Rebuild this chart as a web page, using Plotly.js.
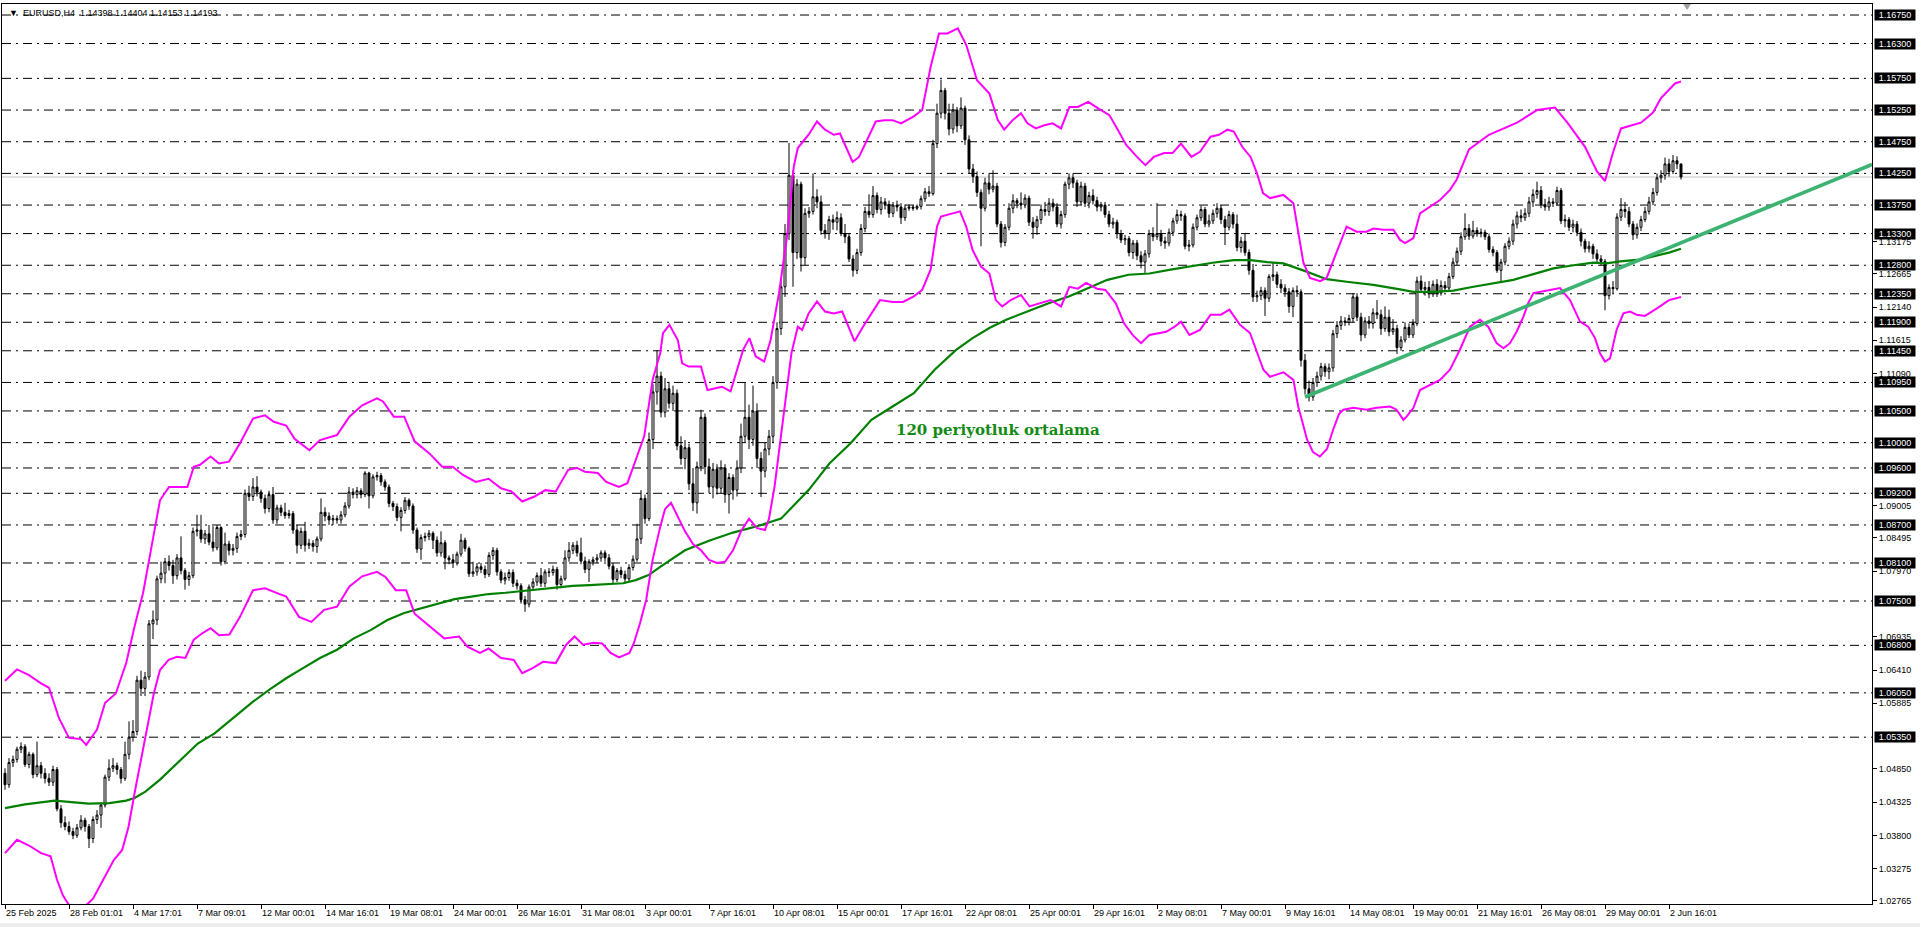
<!DOCTYPE html>
<html><head><meta charset="utf-8">
<script src="https://cdn.plot.ly/plotly-3.0.1.min.js"></script>
<style>html,body{margin:0;padding:0;background:#fff;}#chart{width:1920px;height:927px;}</style>
</head><body><div id="chart"></div>
<script>
// ---- H4 candles (EURUSD), bar index 0 = 25 Feb 2025 ----
const opens = [
1.0478,1.0460,1.0495,1.0500,1.0516,1.0520,1.0492,1.0508,1.0476,1.0490,
1.0478,1.0470,1.0464,1.0484,1.0422,1.0400,1.0394,1.0386,1.0380,1.0392,
1.0404,1.0394,1.0375,1.0405,1.0412,1.0428,1.0472,1.0486,1.0490,1.0484,
1.0470,1.0508,1.0535,1.0544,1.0625,1.0612,1.0630,1.0714,1.0720,1.0785,
1.0794,1.0812,1.0806,1.0790,1.0818,1.0798,1.0784,1.0790,1.0860,1.0862,
1.0848,1.0856,1.0843,1.0834,1.0866,1.0812,1.0840,1.0830,1.0833,1.0852,
1.0855,1.0920,1.0915,1.0930,1.0922,1.0912,1.0896,1.0918,1.0878,1.0897,
1.0890,1.0885,1.0888,1.0862,1.0838,1.0860,1.0838,1.0841,1.0836,1.0848,
1.0890,1.0884,1.0878,1.0880,1.0878,1.0886,1.0900,1.0922,1.0918,1.0924,
1.0918,1.0952,1.0916,1.0946,1.0948,1.0938,1.0930,1.0904,1.0899,1.0882,
1.0893,1.0909,1.0900,1.0862,1.0832,1.0850,1.0852,1.0857,1.0846,1.0826,
1.0842,1.0818,1.0815,1.0810,1.0824,1.0846,1.0833,1.0793,1.0796,1.0804,
1.0800,1.0792,1.0822,1.0830,1.0796,1.0783,1.0787,1.0795,1.0778,1.0774,
1.0752,1.0745,1.0772,1.0780,1.0790,1.0778,1.0796,1.0795,1.0800,1.0776,
1.0785,1.0818,1.0830,1.0838,1.0826,1.0813,1.0800,1.0812,1.0815,1.0818,
1.0826,1.0818,1.0805,1.0784,1.0798,1.0792,1.0785,1.0803,1.0816,1.0848,
1.0912,1.0880,1.1005,1.1080,1.1105,1.1048,1.1085,1.1062,1.1078,1.0995,
1.0975,1.0992,1.0935,1.0905,1.0962,1.1040,1.0962,1.0930,1.0958,1.0928,
1.0960,1.0918,1.0945,1.0925,1.0960,1.1010,1.1040,1.1005,1.1050,1.0975,
1.0955,1.0990,1.1010,1.1095,1.1180,1.1246,1.1330,1.1422,1.1300,1.1408,
1.1292,1.1362,1.1365,1.1388,1.1380,1.1335,1.1330,1.1352,1.1348,1.1355,
1.1330,1.1325,1.1290,1.1272,1.1300,1.1338,1.1365,1.1360,1.1390,1.1368,
1.1380,1.1376,1.1362,1.1375,1.1372,1.1355,1.1370,1.1372,1.1370,1.1373,
1.1385,1.1396,1.1393,1.1472,1.1520,1.1556,1.1520,1.1495,1.1525,1.1500,
1.1528,1.1478,1.1432,1.1420,1.1395,1.1370,1.1410,1.1400,1.1405,1.1345,
1.1316,1.1340,1.1370,1.1382,1.1378,1.1375,1.1386,1.1348,1.1340,1.1352,
1.1368,1.1365,1.1378,1.1372,1.1345,1.1360,1.1408,1.1418,1.1410,1.1380,
1.1405,1.1378,1.1390,1.1382,1.1372,1.1375,1.1360,1.1345,1.1348,1.1330,
1.1320,1.1322,1.1300,1.1315,1.1295,1.1285,1.1298,1.1330,1.1325,1.1330,
1.1318,1.1315,1.1332,1.1350,1.1360,1.1358,1.1310,1.1312,1.1340,1.1355,
1.1368,1.1345,1.1350,1.1362,1.1370,1.1352,1.1340,1.1360,1.1345,1.1308,
1.1318,1.1300,1.1272,1.1230,1.1232,1.1240,1.1228,1.1262,1.1265,1.1250,
1.1244,1.1238,1.1215,1.1240,1.1238,1.1130,1.1085,1.1072,1.1095,1.1105,
1.1120,1.1112,1.1118,1.1172,1.1185,1.1192,1.1190,1.1196,1.1230,1.1198,
1.1170,1.1192,1.1188,1.1205,1.1202,1.1180,1.1198,1.1175,1.1180,1.1150,
1.1162,1.1182,1.1170,1.1188,1.1255,1.1242,1.1245,1.1235,1.1250,1.1236,
1.1248,1.1244,1.1262,1.1285,1.1302,1.1325,1.1338,1.1326,1.1335,1.1330,
1.1332,1.1325,1.1305,1.1300,1.1272,1.1285,1.1310,1.1318,1.1345,1.1358,
1.1355,1.1362,1.1380,1.1392,1.1398,1.1376,1.1372,1.1380,1.1378,1.1398,
1.1350,1.1352,1.1340,1.1345,1.1332,1.1318,1.1306,1.1310,1.1298,1.1290,
1.1286,1.1232,1.1245,1.1243,1.1356,1.1368,1.1365,1.1345,1.1328,1.1340,
1.1352,1.1365,1.1380,1.1395,1.1418,1.1422,1.1440,1.1428,1.1445,1.14398];
const highs = [
1.0486,1.0502,1.0506,1.0520,1.0527,1.0524,1.0512,1.0511,1.0528,1.0496,
1.0486,1.0478,1.0490,1.0488,1.0428,1.0410,1.0402,1.0392,1.0398,1.0412,
1.0408,1.0398,1.0410,1.0420,1.0432,1.0476,1.0500,1.0502,1.0495,1.0488,
1.0528,1.0560,1.0562,1.0632,1.0640,1.0638,1.0720,1.0735,1.0790,1.0812,
1.0818,1.0822,1.0815,1.0824,1.0852,1.0802,1.0796,1.0866,1.0886,1.0886,
1.0862,1.0870,1.0868,1.0870,1.0868,1.0858,1.0845,1.0840,1.0858,1.0862,
1.0926,1.0932,1.0944,1.0947,1.0926,1.0918,1.0924,1.0930,1.0902,1.0902,
1.0905,1.0894,1.0892,1.0870,1.0866,1.0875,1.0848,1.0846,1.0852,1.0912,
1.0898,1.0890,1.0886,1.0885,1.0892,1.0906,1.0930,1.0928,1.0930,1.0928,
1.0955,1.0954,1.0950,1.0954,1.0952,1.0942,1.0934,1.0908,1.0904,1.0898,
1.0914,1.0912,1.0904,1.0866,1.0855,1.0858,1.0862,1.0860,1.0852,1.0860,
1.0846,1.0822,1.0824,1.0828,1.0856,1.0850,1.0836,1.0812,1.0810,1.0810,
1.0806,1.0827,1.0835,1.0834,1.0800,1.0795,1.0800,1.0800,1.0784,1.0778,
1.0758,1.0776,1.0786,1.0795,1.0802,1.0800,1.0802,1.0806,1.0804,1.0790,
1.0830,1.0843,1.0843,1.0845,1.0850,1.0820,1.0816,1.0820,1.0824,1.0830,
1.0830,1.0824,1.0810,1.0802,1.0804,1.0798,1.0808,1.0822,1.0872,1.0925,
1.0918,1.1016,1.1092,1.1146,1.1112,1.1102,1.1096,1.1090,1.1084,1.1010,
1.1004,1.0998,1.0960,1.0970,1.1052,1.1046,1.0975,1.0968,1.0966,1.0972,
1.0966,1.0952,1.0950,1.0972,1.1030,1.1094,1.1060,1.1090,1.1062,1.0985,
1.1000,1.1020,1.1105,1.1190,1.1260,1.1345,1.1473,1.1430,1.1416,1.1412,
1.1370,1.1372,1.1425,1.1400,1.1390,1.1345,1.1358,1.1360,1.1365,1.1362,
1.1345,1.1330,1.1296,1.1306,1.1345,1.1372,1.1392,1.1405,1.1395,1.1388,
1.1386,1.1382,1.1380,1.1382,1.1378,1.1376,1.1376,1.1375,1.1376,1.1390,
1.1402,1.1405,1.1478,1.1535,1.1573,1.1560,1.1535,1.1535,1.1530,1.1545,
1.1532,1.1485,1.1440,1.1428,1.1400,1.1418,1.1425,1.1430,1.1410,1.1350,
1.1345,1.1378,1.1392,1.1386,1.1395,1.1392,1.1390,1.1356,1.1358,1.1376,
1.1380,1.1386,1.1385,1.1378,1.1366,1.1412,1.1425,1.1425,1.1415,1.1412,
1.1410,1.1396,1.1400,1.1388,1.1380,1.1380,1.1366,1.1355,1.1352,1.1336,
1.1328,1.1326,1.1320,1.1320,1.1302,1.1304,1.1336,1.1340,1.1378,1.1336,
1.1325,1.1338,1.1355,1.1368,1.1366,1.1362,1.1320,1.1346,1.1360,1.1374,
1.1372,1.1360,1.1368,1.1378,1.1375,1.1358,1.1366,1.1364,1.1360,1.1325,
1.1330,1.1305,1.1282,1.1240,1.1246,1.1245,1.1266,1.1285,1.1270,1.1258,
1.1250,1.1244,1.1245,1.1248,1.1242,1.1140,1.1098,1.1102,1.1112,1.1126,
1.1125,1.1125,1.1178,1.1192,1.1200,1.1198,1.1202,1.1236,1.1236,1.1205,
1.1198,1.1200,1.1212,1.1225,1.1210,1.1215,1.1210,1.1195,1.1186,1.1168,
1.1190,1.1188,1.1195,1.1262,1.1264,1.1254,1.1255,1.1256,1.1258,1.1256,
1.1255,1.1268,1.1292,1.1308,1.1332,1.1362,1.1345,1.1350,1.1340,1.1338,
1.1336,1.1330,1.1310,1.1304,1.1290,1.1315,1.1324,1.1352,1.1365,1.1368,
1.1370,1.1388,1.1400,1.1412,1.1405,1.1385,1.1388,1.1386,1.1404,1.1402,
1.1360,1.1356,1.1352,1.1350,1.1338,1.1322,1.1318,1.1314,1.1305,1.1296,
1.1290,1.1250,1.1255,1.1362,1.1386,1.1380,1.1372,1.1350,1.1346,1.1358,
1.1372,1.1388,1.1402,1.1425,1.1430,1.1450,1.1448,1.1454,1.1452,1.14404];
const lows = [
1.0452,1.0455,1.0488,1.0495,1.0510,1.0488,1.0486,1.0470,1.0472,1.0470,
1.0462,1.0458,1.0458,1.0418,1.0392,1.0388,1.0381,1.0374,1.0376,1.0388,
1.0386,1.0360,1.0368,1.0398,1.0392,1.0424,1.0466,1.0480,1.0476,1.0462,
1.0466,1.0500,1.0528,1.0538,1.0600,1.0600,1.0625,1.0690,1.0712,1.0778,
1.0778,1.0798,1.0777,1.0784,1.0792,1.0768,1.0774,1.0786,1.0852,1.0842,
1.0840,1.0838,1.0828,1.0830,1.0806,1.0808,1.0822,1.0822,1.0826,1.0846,
1.0850,1.0908,1.0908,1.0915,1.0905,1.0888,1.0890,1.0872,1.0872,1.0884,
1.0880,1.0880,1.0856,1.0825,1.0832,1.0828,1.0832,1.0828,1.0826,1.0844,
1.0876,1.0870,1.0870,1.0872,1.0872,1.0882,1.0896,1.0912,1.0912,1.0912,
1.0914,1.0896,1.0912,1.0940,1.0932,1.0924,1.0898,1.0892,1.0876,1.0860,
1.0888,1.0894,1.0856,1.0826,1.0815,1.0844,1.0846,1.0832,1.0820,1.0820,
1.0800,1.0808,1.0802,1.0806,1.0820,1.0828,1.0788,1.0788,1.0790,1.0794,
1.0786,1.0788,1.0815,1.0790,1.0778,1.0776,1.0782,1.0772,1.0768,1.0746,
1.0733,1.0740,1.0766,1.0774,1.0772,1.0772,1.0788,1.0790,1.0768,1.0770,
1.0782,1.0812,1.0824,1.0820,1.0808,1.0794,1.0780,1.0806,1.0810,1.0812,
1.0812,1.0800,1.0778,1.0780,1.0786,1.0778,1.0780,1.0798,1.0812,1.0840,
1.0872,1.0876,1.0990,1.1060,1.1040,1.1040,1.1054,1.1050,1.0988,1.0965,
1.0958,1.0925,1.0892,1.0888,1.0955,1.0950,1.0920,1.0912,1.0918,1.0920,
1.0905,1.0888,1.0910,1.0915,1.0952,1.1000,1.0990,1.0995,1.0960,1.0914,
1.0945,1.0980,1.1000,1.1085,1.1170,1.1230,1.1320,1.1246,1.1290,1.1270,
1.1280,1.1355,1.1360,1.1370,1.1328,1.1322,1.1320,1.1336,1.1335,1.1326,
1.1315,1.1285,1.1262,1.1266,1.1295,1.1332,1.1355,1.1355,1.1362,1.1360,
1.1368,1.1355,1.1356,1.1365,1.1345,1.1350,1.1366,1.1366,1.1367,1.1368,
1.1380,1.1388,1.1390,1.1465,1.1512,1.1510,1.1485,1.1488,1.1490,1.1495,
1.1470,1.1425,1.1410,1.1388,1.1310,1.1365,1.1392,1.1395,1.1340,1.1308,
1.1310,1.1335,1.1362,1.1370,1.1368,1.1370,1.1342,1.1322,1.1328,1.1345,
1.1358,1.1358,1.1365,1.1340,1.1338,1.1355,1.1400,1.1402,1.1372,1.1375,
1.1372,1.1370,1.1376,1.1365,1.1365,1.1355,1.1340,1.1338,1.1322,1.1315,
1.1312,1.1294,1.1290,1.1288,1.1275,1.1268,1.1292,1.1318,1.1320,1.1310,
1.1306,1.1310,1.1326,1.1345,1.1350,1.1305,1.1302,1.1308,1.1335,1.1350,
1.1340,1.1340,1.1345,1.1355,1.1345,1.1312,1.1335,1.1338,1.1302,1.1300,
1.1295,1.1265,1.1222,1.1222,1.1225,1.1200,1.1222,1.1255,1.1244,1.1236,
1.1230,1.1205,1.1198,1.1230,1.1120,1.1076,1.1065,1.1066,1.1088,1.1098,
1.1104,1.1100,1.1112,1.1165,1.1178,1.1184,1.1185,1.1190,1.1192,1.1160,
1.1165,1.1180,1.1180,1.1195,1.1170,1.1175,1.1168,1.1170,1.1140,1.1145,
1.1158,1.1165,1.1165,1.1184,1.1236,1.1232,1.1228,1.1230,1.1230,1.1232,
1.1238,1.1240,1.1258,1.1280,1.1296,1.1320,1.1320,1.1322,1.1325,1.1324,
1.1320,1.1300,1.1294,1.1268,1.1254,1.1280,1.1305,1.1312,1.1338,1.1348,
1.1350,1.1356,1.1372,1.1385,1.1370,1.1366,1.1366,1.1372,1.1374,1.1345,
1.1340,1.1334,1.1332,1.1326,1.1310,1.1300,1.1300,1.1290,1.1285,1.1280,
1.1209,1.1226,1.1236,1.1240,1.1350,1.1355,1.1340,1.1320,1.1322,1.1334,
1.1348,1.1360,1.1375,1.1390,1.1410,1.1415,1.1420,1.1424,1.1432,1.14153];
const closes = [
1.0460,1.0495,1.0500,1.0516,1.0520,1.0492,1.0508,1.0476,1.0490,1.0478,
1.0470,1.0464,1.0484,1.0422,1.0400,1.0394,1.0386,1.0380,1.0392,1.0404,
1.0394,1.0375,1.0405,1.0412,1.0428,1.0472,1.0486,1.0490,1.0484,1.0470,
1.0508,1.0535,1.0544,1.0625,1.0612,1.0630,1.0714,1.0720,1.0785,1.0794,
1.0812,1.0806,1.0790,1.0818,1.0798,1.0784,1.0790,1.0860,1.0862,1.0848,
1.0856,1.0843,1.0834,1.0866,1.0812,1.0840,1.0830,1.0833,1.0852,1.0855,
1.0920,1.0915,1.0930,1.0922,1.0912,1.0896,1.0918,1.0878,1.0897,1.0890,
1.0885,1.0888,1.0862,1.0838,1.0860,1.0838,1.0841,1.0836,1.0848,1.0890,
1.0884,1.0878,1.0880,1.0878,1.0886,1.0900,1.0922,1.0918,1.0924,1.0918,
1.0952,1.0916,1.0946,1.0948,1.0938,1.0930,1.0904,1.0899,1.0882,1.0893,
1.0909,1.0900,1.0862,1.0832,1.0850,1.0852,1.0857,1.0846,1.0826,1.0842,
1.0818,1.0815,1.0810,1.0824,1.0846,1.0833,1.0793,1.0796,1.0804,1.0800,
1.0792,1.0822,1.0830,1.0796,1.0783,1.0787,1.0795,1.0778,1.0774,1.0752,
1.0745,1.0772,1.0780,1.0790,1.0778,1.0796,1.0795,1.0800,1.0776,1.0785,
1.0818,1.0830,1.0838,1.0826,1.0813,1.0800,1.0812,1.0815,1.0818,1.0826,
1.0818,1.0805,1.0784,1.0798,1.0792,1.0785,1.0803,1.0816,1.0848,1.0912,
1.0880,1.1005,1.1080,1.1105,1.1048,1.1085,1.1062,1.1078,1.0995,1.0975,
1.0992,1.0935,1.0905,1.0962,1.1040,1.0962,1.0930,1.0958,1.0928,1.0960,
1.0918,1.0945,1.0925,1.0960,1.1010,1.1040,1.1005,1.1050,1.0975,1.0955,
1.0990,1.1010,1.1095,1.1180,1.1246,1.1330,1.1422,1.1300,1.1408,1.1292,
1.1362,1.1365,1.1388,1.1380,1.1335,1.1330,1.1352,1.1348,1.1355,1.1330,
1.1325,1.1290,1.1272,1.1300,1.1338,1.1365,1.1360,1.1390,1.1368,1.1380,
1.1376,1.1362,1.1375,1.1372,1.1355,1.1370,1.1372,1.1370,1.1373,1.1385,
1.1396,1.1393,1.1472,1.1520,1.1556,1.1520,1.1495,1.1525,1.1500,1.1528,
1.1478,1.1432,1.1420,1.1395,1.1370,1.1410,1.1400,1.1405,1.1345,1.1316,
1.1340,1.1370,1.1382,1.1378,1.1375,1.1386,1.1348,1.1340,1.1352,1.1368,
1.1365,1.1378,1.1372,1.1345,1.1360,1.1408,1.1418,1.1410,1.1380,1.1405,
1.1378,1.1390,1.1382,1.1372,1.1375,1.1360,1.1345,1.1348,1.1330,1.1320,
1.1322,1.1300,1.1315,1.1295,1.1285,1.1298,1.1330,1.1325,1.1330,1.1318,
1.1315,1.1332,1.1350,1.1360,1.1358,1.1310,1.1312,1.1340,1.1355,1.1368,
1.1345,1.1350,1.1362,1.1370,1.1352,1.1340,1.1360,1.1345,1.1308,1.1318,
1.1300,1.1272,1.1230,1.1232,1.1240,1.1228,1.1262,1.1265,1.1250,1.1244,
1.1238,1.1215,1.1240,1.1238,1.1130,1.1085,1.1072,1.1095,1.1105,1.1120,
1.1112,1.1118,1.1172,1.1185,1.1192,1.1190,1.1196,1.1230,1.1198,1.1170,
1.1192,1.1188,1.1205,1.1202,1.1180,1.1198,1.1175,1.1180,1.1150,1.1162,
1.1182,1.1170,1.1188,1.1255,1.1242,1.1245,1.1235,1.1250,1.1236,1.1248,
1.1244,1.1262,1.1285,1.1302,1.1325,1.1338,1.1326,1.1335,1.1330,1.1332,
1.1325,1.1305,1.1300,1.1272,1.1285,1.1310,1.1318,1.1345,1.1358,1.1355,
1.1362,1.1380,1.1392,1.1398,1.1376,1.1372,1.1380,1.1378,1.1398,1.1350,
1.1352,1.1340,1.1345,1.1332,1.1318,1.1306,1.1310,1.1298,1.1290,1.1286,
1.1232,1.1245,1.1243,1.1356,1.1368,1.1365,1.1345,1.1328,1.1340,1.1352,
1.1365,1.1380,1.1395,1.1418,1.1422,1.1440,1.1428,1.1445,1.1440,1.14193];

// ---- Bollinger bands and 120-period MA, read at bar positions ----
const upperX = [0,3,6,9,11,13.5,16,19,20.3,23,25,27.7,30.3,32.4,34.5,36.6,38.75,41,43,45.6,47.2,48.75,51.4,53.5,56,58.75,62,65,67.2,70.3,72.4,76.1,78.75,83,86.1,89.3,93,94.5,97.2,99.8,102.4,106.1,109.3,111.9,114.5,117.7,120.9,124,126.6,129.3,132.4,135.1,137.7,140.8,143,145,148.2,150.3,153.5,155.6,157.7,159.8,161.9,163.8,164.5,166.1,168.2,169.3,170.9,174,175.6,177.7,179.3,181.4,183,184.5,186.1,187.7,189.8,191.4,193.5,195.6,197.2,198.2,200.9,203,205,207.2,208.75,210.3,211.9,213.5,215.6,217.7,219.8,221.9,224,227.2,229.3,231.4,233.5,235.6,238.2,240.3,243,244.5,246.1,248.2,249.8,251.9,254,255.6,257.7,259.8,261.9,264,266.1,268.2,270.8,273.5,276.1,278.2,280.3,283,285.1,287.2,289.8,291.9,294,296.6,298.75,301.4,303.5,305.6,307.2,309.3,311.4,313,314.5,316.25,319.6,322.1,323.3,324.6,326.25,328.75,330.4,332.1,333.75,335.4,337.9,340.4,342.1,344.6,347.1,348.75,350,352.1,353.75,356.25,358.75,361.25,362.9,366,371,378,383,387.5,390.6,395,398,400,402,404,409,412,414,417.5,419];
const upperY = [1.0624,1.0642,1.0633,1.0620,1.0613,1.0565,1.0534,1.0532,1.0523,1.0547,1.0589,1.0604,1.0652,1.0710,1.0762,1.0836,1.0909,1.0930,1.0930,1.0930,1.0962,1.0965,1.0978,1.0967,1.0970,1.0999,1.1038,1.1043,1.1033,1.1027,1.1006,1.0988,1.1004,1.1012,1.1041,1.1059,1.1070,1.1065,1.1041,1.1041,1.1002,1.0983,1.0962,1.0962,1.0949,1.0938,1.0943,1.0928,1.0923,1.0907,1.0915,1.0925,1.0923,1.0957,1.0960,1.0954,1.0952,1.0938,1.0930,1.0936,1.0973,1.1010,1.1099,1.1141,1.1173,1.1186,1.1162,1.1125,1.1120,1.1120,1.1083,1.1086,1.1088,1.1081,1.1115,1.1146,1.1165,1.1136,1.1128,1.1162,1.1236,1.1330,1.1436,1.1465,1.1486,1.1507,1.1494,1.1486,1.1488,1.1467,1.1443,1.1451,1.1480,1.1507,1.1509,1.1509,1.1504,1.1515,1.1525,1.1593,1.1646,1.1646,1.1654,1.1628,1.1572,1.1562,1.1551,1.1509,1.1494,1.1509,1.1520,1.1504,1.1496,1.1501,1.1504,1.1496,1.1530,1.1530,1.1538,1.1527,1.1517,1.1494,1.1470,1.1451,1.1438,1.1451,1.1457,1.1457,1.1472,1.1451,1.1459,1.1483,1.1486,1.1494,1.1491,1.1467,1.1451,1.1425,1.1394,1.1386,1.1391,1.1378,1.1336,1.1284,1.1260,1.1255,1.1260,1.1288,1.1315,1.1341,1.1333,1.1333,1.1338,1.1336,1.1336,1.1320,1.1315,1.1323,1.1362,1.1373,1.1383,1.1399,1.1415,1.1463,1.1486,1.1505,1.1525,1.1529,1.1505,1.1467,1.1428,1.1413,1.1458,1.1496,1.1505,1.1521,1.1544,1.1567,1.1570];
const lowerX = [0,3,6,9,11.4,13,14.5,16,18,20,22,24.5,27.2,29.3,30.9,32.4,34,35.6,37.2,38.75,40.9,43,45.1,47.2,49.3,51.4,53.5,56.1,58.75,62,65,68.2,70.3,73.5,76.6,79.8,83,86.1,89.3,93,95.1,97.7,100.3,102.4,106.1,109.8,113.5,115.6,118.75,120.9,124,127.2,129.3,131.9,134.5,137.7,140.3,142.4,144.5,147.2,149.3,151.4,153.5,156.1,157.2,158.75,160.3,161.9,163.8,165,166.5,168,170,172,174,176,178,180,182,184,186,188,190,191,192.4,194.5,196.6,198.2,199.3,200.9,203,205,207.2,209.3,210.8,212.4,214.5,216.6,218.75,221.9,224.5,227.2,229.3,231.4,233,234,237.2,238.75,240.3,241.9,244,246.1,247.7,249.3,251.4,254,256.1,258.75,261.4,264,266.1,268.2,270.3,273,275.1,277.7,279.8,281.9,284,286.1,288.2,290.3,292.4,294,296.1,298.75,301.4,304,306.1,308.75,311.25,312.5,314.6,316.25,319.6,322.1,323.3,324.2,325.5,327,328.7,330.5,332,333.5,334.6,337.1,340.4,342.9,346.25,347.9,349.6,350.4,352.1,353.75,355.4,358.75,361.25,363.75,366.25,368.75,370.8,372.9,374.6,376.25,377.9,379.6,380.8,382.1,386.25,388.75,391.25,393.75,395.8,397.5,398.75,400,401.25,402.9,404.6,406.25,407.9,410,413,416,419];
const lowerY = [1.0352,1.0373,1.0364,1.0352,1.0347,1.0310,1.0285,1.0270,1.0266,1.0268,1.0280,1.0310,1.0341,1.0357,1.0394,1.0447,1.0499,1.0552,1.0604,1.0641,1.0657,1.0662,1.0660,1.0689,1.0699,1.0707,1.0696,1.0697,1.0725,1.0767,1.0770,1.0762,1.0757,1.0725,1.0717,1.0736,1.0741,1.0773,1.0789,1.0796,1.0788,1.0767,1.0767,1.0730,1.0710,1.0691,1.0694,1.0678,1.0668,1.0675,1.0660,1.0657,1.0636,1.0644,1.0654,1.0652,1.0681,1.0694,1.0681,1.0684,1.0683,1.0668,1.0661,1.0668,1.0683,1.0715,1.0752,1.0815,1.0867,1.0895,1.0905,1.0885,1.0860,1.0840,1.0830,1.0815,1.0810,1.0812,1.0830,1.0860,1.0880,1.0865,1.0862,1.0880,1.0931,1.1036,1.1141,1.1183,1.1178,1.1204,1.1223,1.1207,1.1204,1.1207,1.1183,1.1160,1.1183,1.1204,1.1225,1.1222,1.1222,1.1231,1.1241,1.1273,1.1341,1.1357,1.1362,1.1365,1.1341,1.1304,1.1278,1.1267,1.1225,1.1215,1.1225,1.1233,1.1215,1.1220,1.1225,1.1215,1.1246,1.1243,1.1252,1.1243,1.1241,1.1220,1.1188,1.1170,1.1157,1.1170,1.1173,1.1175,1.1183,1.1191,1.1170,1.1178,1.1202,1.1202,1.1210,1.1186,1.1173,1.1152,1.1115,1.1104,1.1111,1.1099,1.1057,1.1036,1.1005,1.0985,1.0978,1.0990,1.1020,1.1045,1.1052,1.1055,1.1052,1.1055,1.1057,1.1052,1.1036,1.1041,1.1055,1.1083,1.1088,1.1099,1.1115,1.1147,1.1183,1.1194,1.1183,1.1157,1.1149,1.1157,1.1175,1.1199,1.1220,1.1236,1.1241,1.1244,1.1225,1.1191,1.1183,1.1165,1.1141,1.1128,1.1133,1.1178,1.1204,1.1207,1.1202,1.1200,1.1212,1.1225,1.1230];
const maX = [0,5,12.4,16.6,20.9,26.1,30.3,32.4,35.1,38.75,44,48.2,52.4,57.7,62,66.1,70.3,74.5,78.75,83,87.2,91.4,95.6,99.8,104,108.2,112.4,116.6,120.9,125.1,129.3,133.5,137.7,141.9,146.1,150.3,154.5,157.7,160.9,163.8,170,176,182,188,194,200.9,206.1,211.4,216.6,221.9,227.2,232.4,237.7,241.9,246.1,250.3,255.6,260.9,266.1,271.4,275.6,280.9,286.1,291.4,296.6,301.9,307.2,311.4,315.6,319.6,325.4,330.4,335.4,342.1,348.75,352.1,357.1,362.1,367.1,372.1,377.1,382.1,387.1,392.1,397.1,400.4,403.75,408.75,412,416,419];
const maY = [1.0423,1.0429,1.0435,1.0432,1.0430,1.0431,1.0435,1.0439,1.0449,1.0468,1.0499,1.0525,1.0541,1.0568,1.0591,1.0610,1.0628,1.0644,1.0660,1.0673,1.0691,1.0704,1.0720,1.0731,1.0738,1.0746,1.0753,1.0757,1.0761,1.0763,1.0766,1.0769,1.0771,1.0774,1.0775,1.0777,1.0778,1.0783,1.0791,1.0804,1.0830,1.0845,1.0858,1.0868,1.0880,1.0925,1.0967,1.0999,1.1036,1.1057,1.1078,1.1115,1.1146,1.1165,1.1181,1.1194,1.1207,1.1220,1.1231,1.1246,1.1257,1.1265,1.1267,1.1273,1.1279,1.1284,1.1288,1.1288,1.1285,1.1283,1.1270,1.1258,1.1254,1.1249,1.1242,1.1238,1.1238,1.1240,1.1246,1.1252,1.1257,1.1266,1.1275,1.1280,1.1284,1.1283,1.1286,1.1289,1.1294,1.1300,1.1306];
// rising trendline drawn on the chart (start bar / price, end at right edge)
const trendX = [325, 466.75];
const trendY = [1.1072, 1.1439];

// ---- axis labels ----
const timeTickBars = [0,16,32,48,64,80,96,112,128,144,160,176,192,208,224,240,256,272,288,304,320,336,352,368,384,400,416];
const timeTickText = ["25 Feb 2025","28 Feb 01:01","4 Mar 17:01","7 Mar 09:01","12 Mar 00:01","14 Mar 16:01","19 Mar 08:01","24 Mar 00:01","26 Mar 16:01","31 Mar 08:01","3 Apr 00:01","7 Apr 16:01","10 Apr 08:01","15 Apr 00:01","17 Apr 16:01","22 Apr 08:01","25 Apr 00:01","29 Apr 16:01","2 May 08:01","7 May 00:01","9 May 16:01","14 May 08:01","19 May 00:01","21 May 16:01","26 May 08:01","29 May 00:01","2 Jun 16:01"];
const priceTicks = ["1.13175","1.12665","1.12140","1.11615","1.11090","1.09005","1.08495","1.07970","1.06935","1.06410","1.05885","1.04850","1.04325","1.03800","1.03275","1.02765"];
const levels = ["1.16750","1.16300","1.15750","1.15250","1.14750","1.14250","1.13750","1.13300","1.12800","1.12350","1.11900","1.11450","1.10950","1.10500","1.10000","1.09600","1.09200","1.08700","1.08100","1.07500","1.06800","1.06050","1.05350"];
const bidPrice = 1.14193;
const titleText = "EURUSD,H4  1.14398 1.14404 1.14153 1.14193";
const maLabel = "120 periyotluk ortalama";

const barIdx = opens.map((_, i) => i);
const FONT = "Liberation Sans, Arial, sans-serif";

const traces = [
  {type:'candlestick', x:barIdx, open:opens, high:highs, low:lows, close:closes,
   increasing:{line:{color:'#000', width:1}, fillcolor:'#ffffff'},
   decreasing:{line:{color:'#000', width:1}, fillcolor:'#000000'},
   whiskerwidth:0, hoverinfo:'skip', showlegend:false},
  {type:'scatter', mode:'lines', x:maX, y:maY, line:{color:'#008000', width:2.2}, hoverinfo:'skip', showlegend:false},
  {type:'scatter', mode:'lines', x:upperX, y:upperY, line:{color:'#ff00ff', width:2}, hoverinfo:'skip', showlegend:false},
  {type:'scatter', mode:'lines', x:lowerX, y:lowerY, line:{color:'#ff00ff', width:2}, hoverinfo:'skip', showlegend:false},
  {type:'scatter', mode:'lines', x:trendX, y:trendY, line:{color:'#3cb371', width:3.6}, hoverinfo:'skip', showlegend:false}
];

const shapes = levels.map(v => ({type:'line', xref:'paper', x0:0, x1:1, yref:'y', y0:+v, y1:+v,
  line:{color:'#000', width:1, dash:'9px,5px,2px,5px'}, layer:'below'}));
shapes.push({type:'line', xref:'paper', x0:0, x1:1, yref:'y', y0:bidPrice, y1:bidPrice, line:{color:'#c0c0c0', width:1}, layer:'below'});
shapes.push({type:'path', xref:'paper', yref:'paper', path:'M 0.8990 1 L 0.9032 1 L 0.9011 0.9933 Z', fillcolor:'#a0a0a0', line:{width:0}});
shapes.push({type:'rect', xref:'paper', yref:'paper', x0:-0.01, x1:1.03, y0:-0.0256, y1:-0.0215, fillcolor:'#ececec', line:{width:0}});

const annotations = levels.map(v => ({xref:'paper', x:1, xanchor:'left', xshift:2, yref:'y', y:+v, yanchor:'middle',
  text:v, showarrow:false, bgcolor:'#000', borderpad:0, width:40, height:10,
  font:{family:FONT, size:9, color:'#fff'}}));
annotations.push({xref:'paper', yref:'paper', x:0.0025, y:0.9905, xanchor:'left', yanchor:'middle', showarrow:false,
  text:'\u25BC  ' + titleText, font:{family:FONT, size:9, color:'#000'}});
annotations.push({xref:'x', yref:'y', x:248.2, y:1.1020, xanchor:'center', yanchor:'middle', showarrow:false,
  text:maLabel, font:{family:'DejaVu Serif, serif', size:15, color:'#138a13', weight:'bold'}});

const layout = {
  width:1920, height:927,
  margin:{l:2, r:48, t:4, b:23, pad:0},
  paper_bgcolor:'#ffffff', plot_bgcolor:'#ffffff',
  showlegend:false,
  xaxis:{range:[-0.75, 466.75], showgrid:false, zeroline:false, showline:true, linecolor:'#000', linewidth:1, mirror:true,
    ticks:'outside', ticklen:4, tickcolor:'#000', tickmode:'array', tickvals:timeTickBars, ticktext:timeTickText,
    ticklabelposition:'outside right', tickfont:{family:FONT, size:9, color:'#000'}, rangeslider:{visible:false}, fixedrange:true},
  yaxis:{side:'right', range:[1.02717, 1.16924], showgrid:false, zeroline:false, showline:true, linecolor:'#000', linewidth:1, mirror:true,
    ticks:'outside', ticklen:4, tickcolor:'#000', tickmode:'array', tickvals:priceTicks.map(Number), ticktext:priceTicks,
    tickfont:{family:FONT, size:9, color:'#000'}, fixedrange:true},
  shapes:shapes, annotations:annotations
};
Plotly.newPlot('chart', traces, layout, {staticPlot:true, displayModeBar:false});
</script></body></html>
